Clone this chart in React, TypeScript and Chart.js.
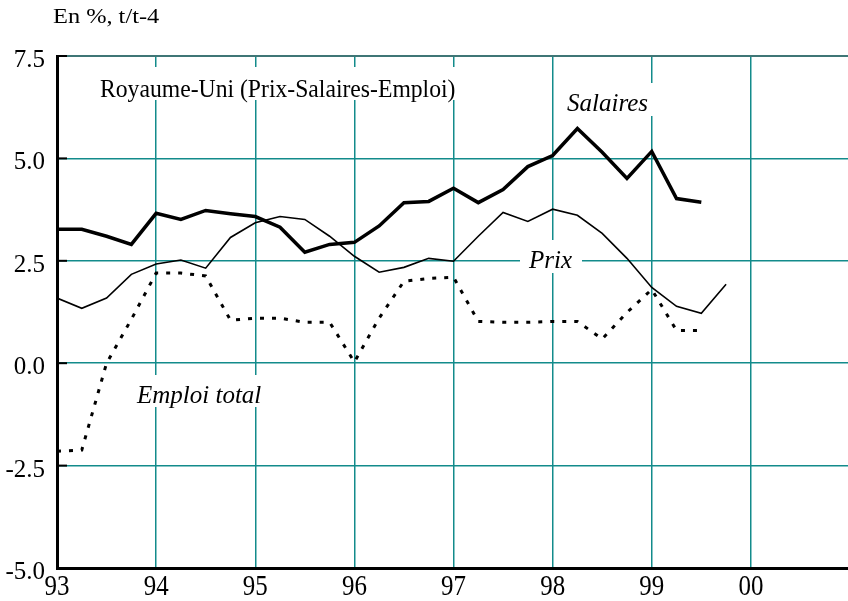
import React, { useEffect, useRef } from "react";
import { Chart, registerables } from "chart.js";

Chart.register(...registerables);

// Quarterly periods (year as decimal, 93 = 1993 Q1)
const quarters = [
  93, 93.25, 93.5, 93.75, 94, 94.25, 94.5, 94.75, 95, 95.25, 95.5, 95.75,
  96, 96.25, 96.5, 96.75, 97, 97.25, 97.5, 97.75, 98, 98.25, 98.5, 98.75,
  99, 99.25, 99.5, 99.75,
];

// Salaires (% t/t-4)
const salaires = [
  3.27, 3.27, 3.1, 2.9, 3.66, 3.51, 3.73, 3.65, 3.58, 3.32, 2.71, 2.9,
  2.95, 3.35, 3.92, 3.95, 4.27, 3.92, 4.24, 4.8, 5.07, 5.73, 5.15, 4.51,
  5.17, 4.02, 3.93,
];

// Prix (% t/t-4)
const prix = [
  1.59, 1.34, 1.59, 2.17, 2.42, 2.52, 2.32, 3.07, 3.43, 3.58, 3.51, 3.1,
  2.61, 2.22, 2.34, 2.56, 2.49, 3.1, 3.68, 3.46, 3.76, 3.61, 3.17, 2.56,
  1.85, 1.39, 1.22, 1.93,
];

// Emploi total (% t/t-4)
const emploi = [
  -2.15, -2.12, 0.0, 1.07, 2.2, 2.2, 2.13, 1.05, 1.1, 1.1, 1.0, 1.0,
  0.03, 1.1, 2.0, 2.07, 2.1, 1.02, 1.0, 1.0, 1.02, 1.02, 0.59, 1.24,
  1.8, 0.8, 0.8,
];

const xTickValues = [93, 94, 95, 96, 97, 98, 99, 100];
const xTickLabels = ["93", "94", "95", "96", "97", "98", "99", "00"];
const yTickValues = [-5, -2.5, 0, 2.5, 5, 7.5];
const yTickLabels = ["-5.0", "-2.5", "0.0", "2.5", "5.0", "7.5"];

const TEAL = "#138b8b";
const SERIF = '"Liberation Serif", "Times New Roman", serif';

const toPoints = (vals: number[]) =>
  vals.map((v, i) => ({ x: quarters[i], y: v }));

function drawText(
  ctx: CanvasRenderingContext2D,
  text: string,
  x: number,
  y: number,
  font: string,
  align: CanvasTextAlign,
  sx = 1
) {
  ctx.save();
  ctx.font = font;
  ctx.fillStyle = "#000";
  ctx.textAlign = align;
  ctx.textBaseline = "alphabetic";
  ctx.translate(x, y);
  ctx.scale(sx, 1);
  ctx.fillText(text, 0, 0);
  ctx.restore();
}

const overlayPlugin = {
  id: "overlay",
  beforeDatasetsDraw(chart: any) {
    const ctx: CanvasRenderingContext2D = chart.ctx;
    const ys = chart.scales.y;
    const left = chart.chartArea.left;
    ctx.save();
    // inward ticks on left axis
    ctx.strokeStyle = "#000";
    ctx.lineWidth = 2;
    yTickValues.forEach((v) => {
      const y = ys.getPixelForValue(v);
      ctx.beginPath();
      ctx.moveTo(left, y);
      ctx.lineTo(left + 10, y);
      ctx.stroke();
    });
    // white label boxes
    ctx.fillStyle = "#fff";
    ctx.fillRect(95, 67, 366, 33);
    ctx.fillRect(560, 83, 96, 33);
    ctx.fillRect(520, 240, 62, 33);
    ctx.fillRect(132, 375, 136, 32);
    ctx.restore();

    drawText(ctx, "Royaume-Uni (Prix-Salaires-Emploi)", 100, 97, `26px ${SERIF}`, "left", 0.91);
    drawText(ctx, "Salaires", 567, 111, `italic 25px ${SERIF}`, "left");
    drawText(ctx, "Prix", 529, 268, `italic 25px ${SERIF}`, "left");
    drawText(ctx, "Emploi total", 137, 403, `italic 25px ${SERIF}`, "left");
  },
  afterDraw(chart: any) {
    const ctx: CanvasRenderingContext2D = chart.ctx;
    const xs = chart.scales.x;
    const ys = chart.scales.y;
    yTickValues.forEach((v, i) => {
      const y = ys.getPixelForValue(v);
      drawText(ctx, yTickLabels[i], 45, y + 11, `25px ${SERIF}`, "right");
    });
    xTickValues.forEach((v, i) => {
      const x = xs.getPixelForValue(v);
      drawText(ctx, xTickLabels[i], x, 595, `29px ${SERIF}`, "center", 0.86);
    });
    drawText(ctx, "En %, t/t-4", 53, 23, `21px ${SERIF}`, "left", 1.16);
  },
};

export default function App() {
  const ref = useRef<HTMLCanvasElement | null>(null);

  useEffect(() => {
    if (!ref.current) return;
    const chart = new Chart(ref.current, {
      type: "line",
      data: {
        datasets: [
          {
            label: "Salaires",
            data: toPoints(salaires),
            borderColor: "#000",
            borderWidth: 3.5,
            pointRadius: 0,
            tension: 0,
          },
          {
            label: "Prix",
            data: toPoints(prix),
            borderColor: "#000",
            borderWidth: 1.6,
            pointRadius: 0,
            tension: 0,
          },
          {
            label: "Emploi total",
            data: toPoints(emploi),
            borderColor: "#000",
            borderWidth: 3,
            borderDash: [4, 8],
            pointRadius: 0,
            tension: 0,
          },
        ],
      },
      options: {
        responsive: false,
        animation: false,
        layout: { padding: { left: 57, top: 56, right: 10, bottom: 33 } },
        plugins: {
          legend: { display: false },
          tooltip: { enabled: false },
        },
        scales: {
          x: {
            type: "linear",
            min: 93,
            max: 101,
            ticks: { display: false, stepSize: 1 },
            grid: {
              drawTicks: false,
              color: TEAL,
              lineWidth: 1.5,
            },
            border: { display: true, color: "#000", width: 3 },
          },
          y: {
            type: "linear",
            min: -5,
            max: 7.5,
            ticks: { display: false, stepSize: 2.5 },
            grid: {
              drawTicks: false,
              color: (c: any) => (c.tick && c.tick.value === 7.5 ? "#3f7676" : TEAL),
              lineWidth: (c: any) => (c.tick && c.tick.value === 7.5 ? 2 : 1.5),
            },
            border: { display: true, color: "#000", width: 3 },
          },
        },
      },
      plugins: [overlayPlugin],
    });
    return () => chart.destroy();
  }, []);

  return (
    <div
      style={{
        position: "fixed",
        left: 0,
        top: 0,
        width: 848,
        height: 601,
        overflow: "hidden",
        background: "#fff",
      }}
    >
      <canvas ref={ref} width={860} height={601} style={{ width: 860, height: 601 }} />
    </div>
  );
}
